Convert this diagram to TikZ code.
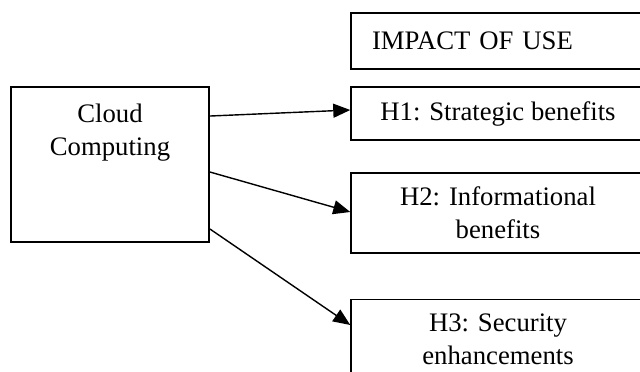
\documentclass[tikz,border=0pt]{standalone}
\usepackage{fontspec}
\setmainfont{Liberation Serif}
\usetikzlibrary{arrows.meta}
\begin{document}
\begin{tikzpicture}[x=0.2mm,y=-0.2mm,
        hbox/.style={draw=black, line width=0.85pt, minimum width=58.8mm, align=center,
            font=\fontsize{15.2pt}{18.8pt}\selectfont},
        link/.style={line width=0.8pt, -{Triangle[length=3.4mm,width=2.8mm]}}]
        \useasboundingbox (0,0) rectangle (640,372);
        \clip (0,0) rectangle (640,372);
        \node[hbox, line width=1.1pt, minimum width=39.6mm, minimum height=31mm,
            label={[align=center, anchor=north, inner sep=0pt, yshift=-3.5mm,
            font=\fontsize{15.2pt}{18.8pt}\selectfont]north:Cloud\\Computing}] (cloud) at (110,164.5) {};
        \node[hbox, minimum height=11.2mm, text width=50.4mm, inner xsep=4.2mm, align=left] (impact) at (498,41) {IMPACT OF USE};
        \node[hbox, minimum height=10.6mm] (h1) at (498,113.5) {H1: Strategic benefits};
        \node[hbox, minimum height=16mm] (h2) at (498,213) {H2: Informational\\benefits};
        \node[hbox, minimum height=16mm] (h3) at (498,339.5) {H3: Security\\enhancements};
        \draw[link] ([yshift=-6mm]cloud.north east) -- ([yshift=0.7mm]h1.west);
        \draw[link] ([yshift=-17.2mm]cloud.north east) -- ([yshift=0.2mm]h2.west);
        \draw[link] ([yshift=-28.6mm]cloud.north east) -- ([yshift=2.9mm]h3.west);
\end{tikzpicture}
\end{document}
